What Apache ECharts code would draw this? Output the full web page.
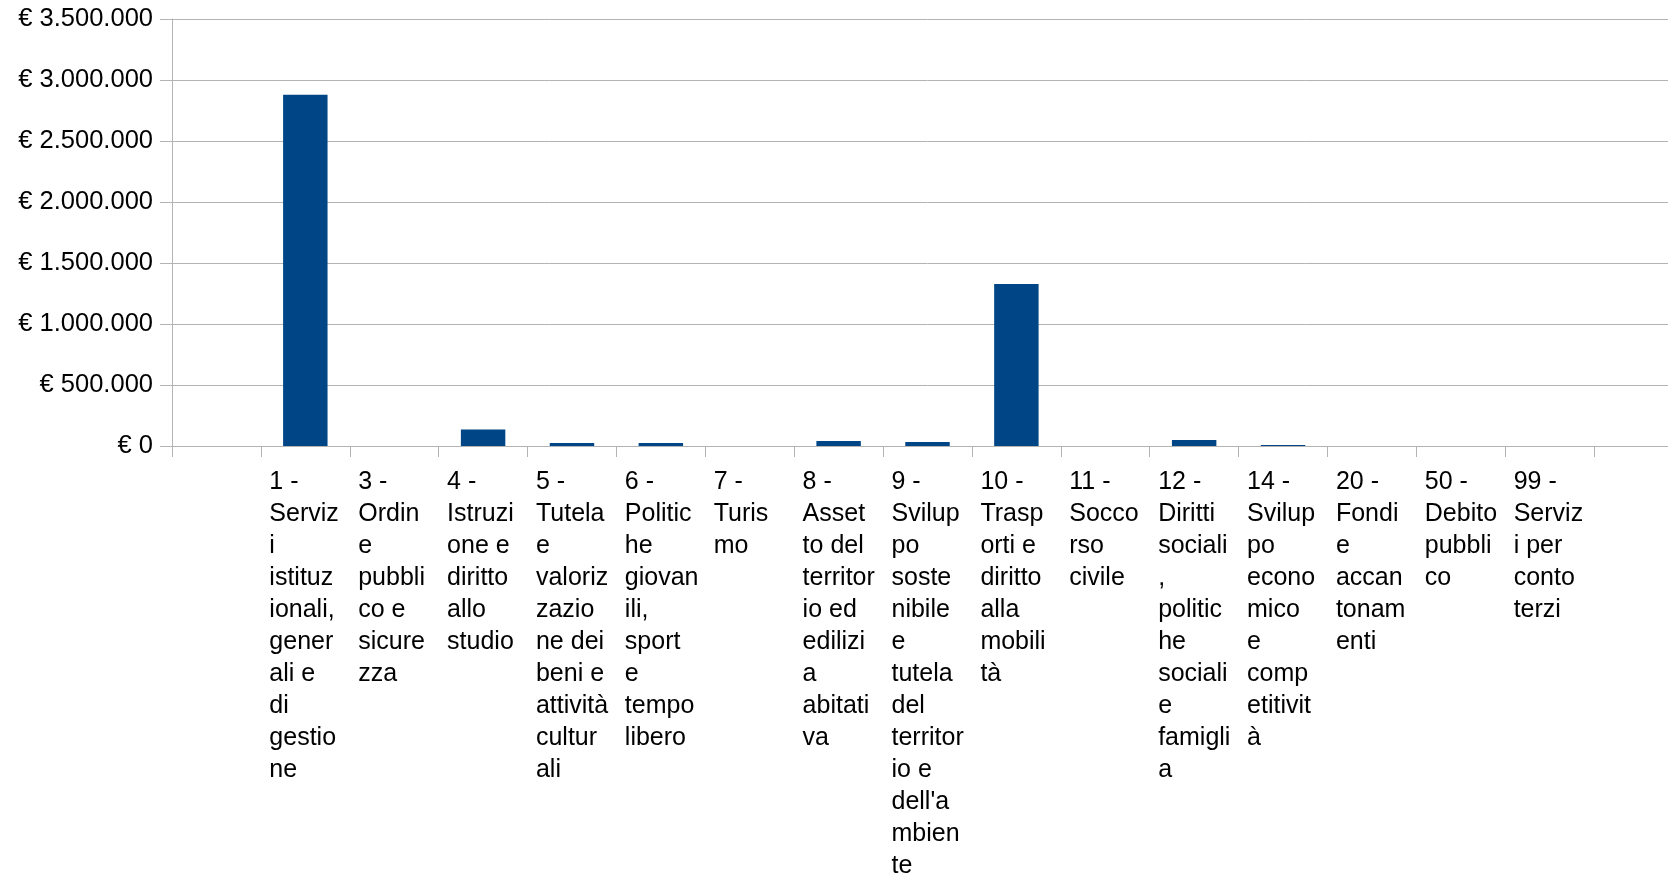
<!DOCTYPE html>
<html>
<head>
<meta charset="utf-8">
<script src="https://cdn.jsdelivr.net/npm/echarts@6/dist/echarts.min.js"></script>
<style>
html,body{margin:0;padding:0;background:#fff;overflow:hidden;width:1668px;height:882px;}
#c{width:1700px;height:882px;}
</style>
</head>
<body>
<div id="c"></div>
<script>
// Categories (first and last slots are empty in the original chart)
const categories = [
  '',
  '1 - Servizi istituzionali, generali e di gestione',
  '3 - Ordine pubblico e sicurezza',
  '4 - Istruzione e diritto allo studio',
  '5 - Tutela e valorizzazione dei beni e attività culturali',
  '6 - Politiche giovanili, sport e tempo libero',
  '7 - Turismo',
  '8 - Assetto del territorio ed edilizia abitativa',
  '9 - Sviluppo sostenibile e tutela del territorio e dell\'ambiente',
  '10 - Trasporti e diritto alla mobilità',
  '11 - Soccorso civile',
  '12 - Diritti sociali, politiche sociali e famiglia',
  '14 - Sviluppo economico e competitività',
  '20 - Fondi e accantonamenti',
  '50 - Debito pubblico',
  '99 - Servizi per conto terzi',
  ''
];
// Tick labels as wrapped in the original
const tickLabels = [
  '',
  '1 -\nServiz\ni\nistituz\nionali,\ngener\nali e\ndi\ngestio\nne',
  '3 -\nOrdin\ne\npubbli\nco e\nsicure\nzza',
  '4 -\nIstruzi\none e\ndiritto\nallo\nstudio',
  '5 -\nTutela\ne\nvaloriz\nzazio\nne dei\nbeni e\nattività\ncultur\nali',
  '6 -\nPolitic\nhe\ngiovan\nili,\nsport\ne\ntempo\nlibero',
  '7 -\nTuris\nmo',
  '8 -\nAsset\nto del\nterritor\nio ed\nedilizi\na\nabitati\nva',
  '9 -\nSvilup\npo\nsoste\nnibile\ne\ntutela\ndel\nterritor\nio e\ndell\'a\nmbien\nte',
  '10 -\nTrasp\norti e\ndiritto\nalla\nmobili\ntà',
  '11 -\nSocco\nrso\ncivile',
  '12 -\nDiritti\nsociali\n,\npolitic\nhe\nsociali\ne\nfamigli\na',
  '14 -\nSvilup\npo\necono\nmico\ne\ncomp\netitivit\nà',
  '20 -\nFondi\ne\naccan\ntonam\nenti',
  '50 -\nDebito\npubbli\nco',
  '99 -\nServiz\ni per\nconto\nterzi',
  ''
];
// Values (euro)
const values = [null, 2880000, 0, 136000, 24000, 24000, 0, 41000, 33000, 1327000, 0, 49000, 8000, 0, 0, 0, null];
// Y axis ticks
const yMin = 0, yMax = 3500000, yStep = 500000;

function fmtEuro(v){
  return '€ ' + String(Math.round(v)).replace(/\B(?=(\d{3})+(?!\d))/g, '.');
}

const chart = echarts.init(document.getElementById('c'), null, {renderer:'canvas'});
const font = '"Liberation Sans", Arial, sans-serif';
const gray = '#b3b3b3';
chart.setOption({
  animation: false,
  backgroundColor: '#ffffff',
  grid: {left: 172, right: 17, top: 19, bottom: 429, containLabel: false},
  xAxis: {
    type: 'category',
    data: categories,
    boundaryGap: true,
    axisLine: {show: true, lineStyle: {color: gray, width: 1}},
    axisTick: {show: true, interval: 0, length: 11, lineStyle: {color: gray, width: 1}},
    axisLabel: {
      interval: 0,
      formatter: function(v, i){ return tickLabels[i]; },
      align: 'left',
      verticalAlign: 'top',
      fontFamily: font,
      fontSize: 25,
      lineHeight: 32,
      color: '#000',
      margin: 20,
      padding: [0, 0, 0, -36]
    },
    splitLine: {show: false}
  },
  yAxis: {
    type: 'value',
    min: yMin, max: yMax, interval: yStep,
    axisLine: {show: true, lineStyle: {color: gray, width: 1}},
    axisTick: {show: true, length: 12, lineStyle: {color: gray, width: 1}},
    axisLabel: {
      formatter: fmtEuro,
      fontFamily: font,
      fontSize: 25.5,
      color: '#000',
      margin: 19
    },
    splitLine: {show: true, lineStyle: {color: gray, width: 1}}
  },
  series: [{
    type: 'bar',
    data: values,
    barWidth: '50%',
    itemStyle: {color: '#004586'}
  }]
});
</script>
</body>
</html>
